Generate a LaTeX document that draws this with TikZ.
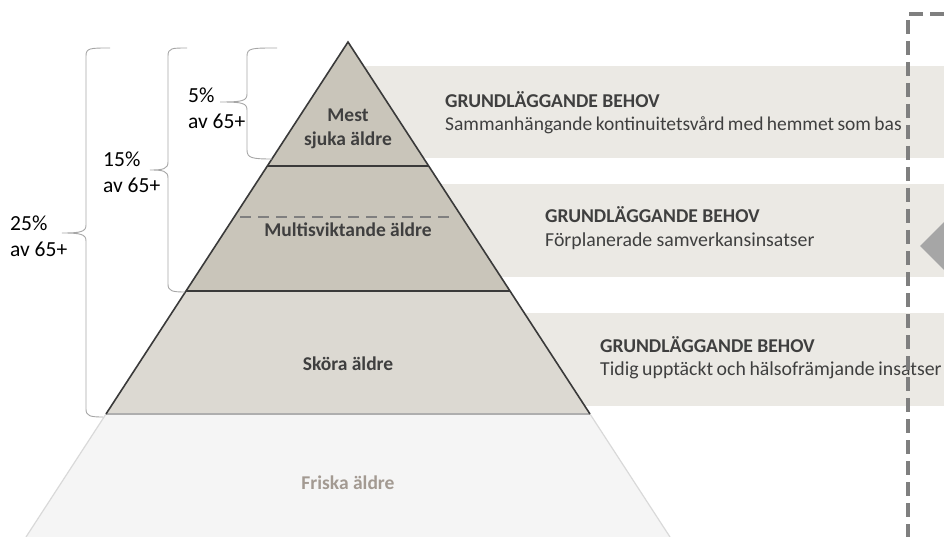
\documentclass[tikz,border=0pt]{standalone}
\usepackage{fontspec}
\setmainfont{Carlito}
\begin{document}
\begin{tikzpicture}[x=1pt,y=-1pt,
  band/.style={fill=bandc,draw=none},
  ttl/.style={anchor=base west,font=\fontsize{19.6}{22}\selectfont\bfseries,text=txt,inner sep=0},
  sub/.style={anchor=base west,font=\fontsize{19.8}{22}\selectfont,text=txt,inner sep=0},
  plab/.style={font=\fontsize{19.5}{24}\selectfont\bfseries,text=txt,align=center,inner sep=0},
  lab/.style={anchor=base west,font=\fontsize{21.5}{26}\selectfont,text=black,inner sep=0,align=left},
  brc/.style={draw=bracec,line width=0.9pt},
  edge/.style={draw=edgec,line width=1.6pt},
]
\definecolor{bandc}{HTML}{EBE9E4}
\definecolor{txt}{HTML}{3F3F3F}
\definecolor{tierdark}{HTML}{C9C5BA}
\definecolor{tierlight}{HTML}{DCD9D2}
\definecolor{friska}{HTML}{F5F5F5}
\definecolor{friskaedge}{HTML}{D9D9D9}
\definecolor{friskatxt}{HTML}{A39A92}
\definecolor{edgec}{HTML}{3A3A3A}
\definecolor{bracec}{HTML}{A6A6A6}
\definecolor{dashc}{HTML}{7F7F7F}
\definecolor{arrowc}{HTML}{A6A6A6}
\useasboundingbox (0,0) rectangle (944,537);
% bands
\fill[band] (340,66) rectangle (944,158);
\fill[band] (400,184) rectangle (944,277);
\fill[band] (480,313) rectangle (944,406);
% pyramid coordinates
\coordinate (apex) at (348,42);
\coordinate (l1) at (267.5,166); \coordinate (r1) at (428.5,166);
\coordinate (l2) at (186,291); \coordinate (r2) at (510,291);
\coordinate (l3) at (106,414); \coordinate (r3) at (590,414);
\coordinate (l4) at (26,537); \coordinate (r4) at (670,537);
% fills
\fill[friska] (l3) -- (r3) -- (r4) -- (l4) -- cycle;
\draw[friskaedge,line width=1.2pt] (l4) -- (l3) (r3) -- (r4);
\fill[tierlight] (l2) -- (r2) -- (r3) -- (l3) -- cycle;
\fill[tierdark] (apex) -- (r2) -- (l2) -- cycle;
\draw[color=friskaedge!80!black,line width=1.2pt] (l3) -- (r3);
\draw[edge] (l3) -- (apex) -- (r3);
\draw[edge] (l1) -- (r1) (l2) -- (r2);
\draw[dashc,line width=2pt,dash pattern=on 11pt off 7pt] (240,217) -- (453,217);
% pyramid labels
\node[plab] (mest) at (348,129) {Mest\\sjuka äldre};
\node[plab] (multi) at (348,230) {Multisviktande äldre};
\node[plab] (skora) at (348,364) {Sköra äldre};
\node[plab,text=friskatxt] (frisk) at (348,483) {Friska äldre};
% band texts
\node[ttl] (t1) at (445,108) {GRUNDLÄGGANDE BEHOV};
\node[sub,font=\fontsize{19.5}{22}\selectfont] (s1) at (445,131) {\spaceskip=3.4pt Sammanhängande kontinuitetsvård med hemmet som bas};
\node[ttl] (t2) at (545,223) {GRUNDLÄGGANDE BEHOV};
\node[sub] (s2) at (545,247) {Förplanerade samverkansinsatser};
\node[ttl] (t3) at (600,352) {GRUNDLÄGGANDE BEHOV};
\node[sub] (s3) at (600,375) {\spaceskip=3.6pt Tidig upptäckt och hälsofrämjande insatser};
% braces
\draw[brc] (277,48) .. controls (252,48) and (247,48) .. (247,56) -- (247,94)
  .. controls (247,101) and (242,102) .. (220,102)
  .. controls (242,102) and (247,103) .. (247,110) -- (247,150)
  .. controls (247,158) and (252,159) .. (272,159);
\draw[brc] (187,48) .. controls (172,48) and (168,48) .. (168,56) -- (168,162)
  .. controls (168,169) and (163,170) .. (150,170)
  .. controls (163,170) and (168,171) .. (168,178) -- (168,284)
  .. controls (168,291) and (172,292) .. (185,292);
\draw[brc] (110,48) .. controls (90,48) and (86,48) .. (86,56) -- (86,225)
  .. controls (86,232) and (80,233) .. (62,233)
  .. controls (80,233) and (86,234) .. (86,241) -- (86,409)
  .. controls (86,416) and (90,417) .. (103,417);
% left labels
\node[lab] (p5) at (188,103) {5\%};
\node[lab] (a5) at (188,129) {av 65+};
\node[lab] (p15) at (103,167) {15\%};
\node[lab] (a15) at (103,193) {av 65+};
\node[lab] (p25) at (10,230) {25\%};
\node[lab] (a25) at (10,256) {av 65+};
% arrow triangle
\fill[arrowc] (920,246) -- (944,222) -- (944,270) -- cycle;
% dashed frame
\draw[dashc,line width=3.5pt,dash pattern=on 14pt off 7pt] (944,14) -- (908,14) -- (908,540);
\end{tikzpicture}
\end{document}
